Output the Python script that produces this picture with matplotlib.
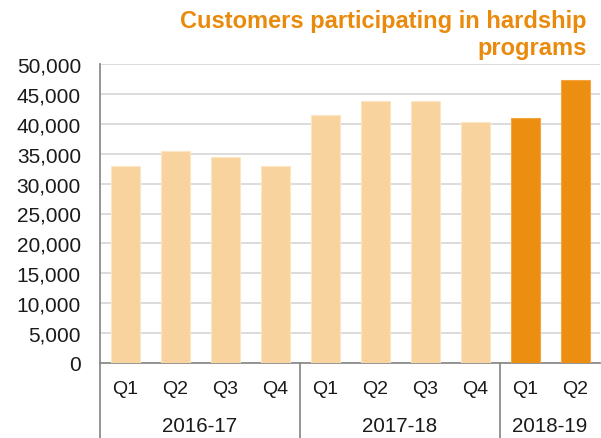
import matplotlib
matplotlib.use("Agg")
import matplotlib.pyplot as plt
from matplotlib.lines import Line2D
from matplotlib.ticker import FuncFormatter

plt.rcParams['font.family'] = ['Liberation Sans', 'DejaVu Sans']

# Data
quarters = ["Q1", "Q2", "Q3", "Q4", "Q1", "Q2", "Q3", "Q4", "Q1", "Q2"]
years = ["2016-17", "2017-18", "2018-19"]
year_sizes = [4, 4, 2]
values = [33000, 35500, 34450, 32900, 41400, 43800, 43750, 40300, 41000, 47300]
highlight = [False] * 8 + [True] * 2
title = "Customers participating in hardship\nprograms"

light = "#F8D39E"
dark = "#EC8E10"
title_color = "#EA8A0C"

W, H = 601, 439
fig = plt.figure(figsize=(W / 100, H / 100), dpi=100)
ax_left, ax_right, ax_top, ax_bot = 100, 600, 65, 364
ax = fig.add_axes([ax_left / W, (H - ax_bot) / H, (ax_right - ax_left) / W, (ax_bot - ax_top) / H])

x = list(range(len(values)))
colors = [dark if h else light for h in highlight]
edges = ["#F2A540" if h else "#FCE6C4" for h in highlight]
ax.bar(x, values, width=0.58, color=colors, edgecolor=edges, linewidth=0.8, zorder=3)

ax.set_xlim(-0.5, len(values) - 0.5)
ax.set_ylim(0, 50000)
ax.set_yticks(range(0, 50001, 5000))
ax.yaxis.set_major_formatter(FuncFormatter(lambda v, p: f"{int(v):,}"))
ax.tick_params(axis='y', length=0, pad=13.7, labelsize=15, labelcolor="#1a1a1a")
ax.set_xticks([])
ax.grid(axis='y', color="#D9D9D9", linewidth=1.3, zorder=0)
ax.set_axisbelow(True)
for s in ["top", "right"]:
    ax.spines[s].set_visible(False)
ax.spines["left"].set_color("#8C8C8C")
ax.spines["left"].set_linewidth(1.3)
ax.spines["bottom"].set_color("#8C8C8C")
ax.spines["bottom"].set_linewidth(1.3)

# Category axis: quarters and years
def fx(px):
    return px / W

def fy(py):
    return (H - py) / H

for i, q in enumerate(quarters):
    xpix = ax_left + (i + 0.5) * (ax_right - ax_left) / len(values)
    fig.text(fx(xpix), fy(390), q, ha='center', va='center', fontsize=14, color="#1a1a1a")

start = 0
seps = [0]
for y, n in zip(years, year_sizes):
    center = start + n / 2
    xpix = ax_left + center * (ax_right - ax_left) / len(values)
    fig.text(fx(xpix), fy(427), y, ha='center', va='center', fontsize=14.8, color="#1a1a1a")
    start += n
    seps.append(start)

for s in seps[:-1]:
    xpix = ax_left + s * (ax_right - ax_left) / len(values)
    fig.add_artist(Line2D([fx(xpix), fx(xpix)], [fy(ax_bot), fy(H)], transform=fig.transFigure,
                          color="#8C8C8C", linewidth=1.3))

fig.text(fx(587), fy(35), title, ha='right', va='center', fontsize=17, fontweight='bold',
         color=title_color, linespacing=1.2)

fig.savefig("out.png", dpi=100)
